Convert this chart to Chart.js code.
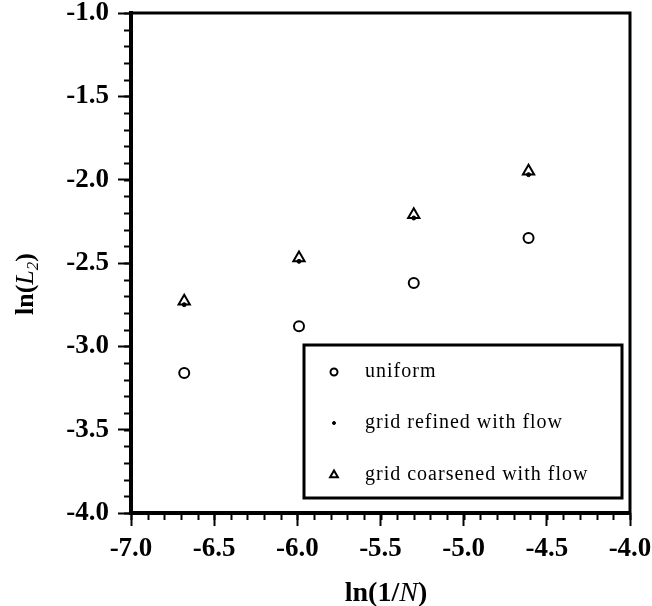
<!DOCTYPE html>
<html>
<head>
<meta charset="utf-8">
<script src="https://cdn.jsdelivr.net/npm/chart.js@4/dist/chart.umd.min.js"></script>
<style>
  html, body { margin: 0; padding: 0; background: #fff; }
  #wrap { width: 652px; height: 606px; position: relative; }
</style>
</head>
<body>
<div id="wrap"><canvas id="chart"></canvas></div>
<script>
// ln(1/N) for the four grids
const xVals = [-6.68, -5.99, -5.30, -4.61];
const uniform = [-3.16, -2.88, -2.62, -2.35];
const refined = [-2.75, -2.49, -2.23, -1.97];
const coarsened = [-2.73, -2.47, -2.21, -1.95];
const xTicks = [-7.0, -6.5, -6.0, -5.5, -5.0, -4.5, -4.0];
const yTicks = [-4.0, -3.5, -3.0, -2.5, -2.0, -1.5, -1.0];
const legendLabels = ['uniform', 'grid refined with flow', 'grid coarsened with flow'];

const SERIF = "'Liberation Serif', 'Times New Roman', serif";

function pts(ys) {
  return ys.map((y, i) => ({ x: xVals[i], y }));
}

// minor ticks, frame, axis titles and legend box
const extras = {
  id: 'extras',
  afterDraw(chart) {
    const ctx = chart.ctx;
    const a = chart.chartArea;
    const xs = chart.scales.x, ys = chart.scales.y;
    ctx.save();
    ctx.strokeStyle = '#000';

    // minor ticks every 0.1
    ctx.lineWidth = 2;
    for (let i = 0; i <= 30; i++) {
      const px = Math.round(xs.getPixelForValue(-7 + i / 10)) + 0.5;
      ctx.beginPath(); ctx.moveTo(px, a.bottom); ctx.lineTo(px, a.bottom + 7); ctx.stroke();
      const py = Math.round(ys.getPixelForValue(-4 + i / 10)) + 0.5;
      ctx.beginPath(); ctx.moveTo(a.left, py); ctx.lineTo(a.left - 7, py); ctx.stroke();
    }

    // frame
    ctx.lineWidth = 3;
    ctx.strokeRect(a.left, a.top, a.right - a.left, a.bottom - a.top);

    // x title: ln(1/N)
    ctx.fillStyle = '#000';
    ctx.textBaseline = 'alphabetic';
    const xParts = [['ln(1/', 'bold 28px ' + SERIF], ['N', 'italic 28px ' + SERIF], [')', 'bold 28px ' + SERIF]];
    let w = 0;
    xParts.forEach(p => { ctx.font = p[1]; w += ctx.measureText(p[0]).width; });
    let cx = 386 - w / 2;
    xParts.forEach(p => { ctx.font = p[1]; ctx.fillText(p[0], cx, 601); cx += ctx.measureText(p[0]).width; });

    // y title: ln(L2)
    ctx.save();
    ctx.translate(33, 284);
    ctx.rotate(-Math.PI / 2);
    const yParts = [['ln(', 'bold 26px ' + SERIF, 0], ['L', 'italic 26px ' + SERIF, 0], ['2', 'italic 17px ' + SERIF, 5], [')', 'bold 26px ' + SERIF, 0]];
    w = 0;
    yParts.forEach(p => { ctx.font = p[1]; w += ctx.measureText(p[0]).width; });
    cx = -w / 2;
    yParts.forEach(p => { ctx.font = p[1]; ctx.fillText(p[0], cx, p[2]); cx += ctx.measureText(p[0]).width; });
    ctx.restore();

    // legend box
    ctx.lineWidth = 3;
    ctx.strokeRect(304, 345, 318, 153);
    const rowsY = [372, 423, 475];
    ctx.font = '20px ' + SERIF;
    ctx.textBaseline = 'middle';
    chart.data.datasets.forEach((ds, i) => {
      const y = rowsY[i];
      ctx.lineWidth = ds.borderWidth;
      ctx.strokeStyle = ds.borderColor;
      ctx.fillStyle = ds.backgroundColor;
      Chart.helpers.drawPoint(ctx, {
        pointStyle: ds.pointStyle,
        radius: ds.legendRadius,
        borderWidth: ds.borderWidth,
        rotation: 0
      }, 334, y);
      ctx.fillStyle = '#000';
      ctx.letterSpacing = '1px';
      ctx.fillText(legendLabels[i], 365, y);
      ctx.letterSpacing = '0px';
    });
    ctx.restore();
  }
};

new Chart(document.getElementById('chart'), {
  type: 'scatter',
  data: {
    datasets: [
      {
        label: legendLabels[0],
        data: pts(uniform),
        pointStyle: 'circle',
        pointRadius: 5,
        legendRadius: 3.5,
        borderWidth: 2,
        borderColor: '#000',
        backgroundColor: '#fff'
      },
      {
        label: legendLabels[1],
        data: pts(refined),
        pointStyle: 'circle',
        pointRadius: 2,
        legendRadius: 1.5,
        borderWidth: 1,
        borderColor: '#000',
        backgroundColor: '#000'
      },
      {
        label: legendLabels[2],
        data: pts(coarsened),
        pointStyle: 'triangle',
        pointRadius: 6.5,
        legendRadius: 4.5,
        borderWidth: 2,
        borderColor: '#000',
        backgroundColor: 'rgba(0,0,0,0)'
      }
    ]
  },
  options: {
    responsive: true,
    maintainAspectRatio: false,
    animation: false,
    layout: { padding: { top: 13, right: 22, left: 0, bottom: 0 } },
    plugins: { legend: { display: false }, tooltip: { enabled: false } },
    scales: {
      x: {
        type: 'linear',
        min: -7, max: -4,
        afterFit: s => { s.height = 93; s.paddingLeft = 0; s.paddingRight = 0; },
        afterBuildTicks: s => { s.ticks = xTicks.map(v => ({ value: v })); },
        ticks: {
          callback: v => v.toFixed(1),
          color: '#000',
          padding: 7,
          maxRotation: 0,
          font: { family: SERIF, size: 27, weight: 'bold' }
        },
        grid: { drawOnChartArea: false, tickLength: 13, tickWidth: 2, color: '#000' },
        border: { display: true, width: 4, color: '#000' }
      },
      y: {
        type: 'linear',
        min: -4, max: -1,
        afterFit: s => { s.width = 131; s.paddingTop = 0; s.paddingBottom = 0; },
        afterBuildTicks: s => { s.ticks = yTicks.map(v => ({ value: v })); },
        ticks: {
          callback: v => v.toFixed(1),
          color: '#000',
          padding: 9,
          font: { family: SERIF, size: 27, weight: 'bold' }
        },
        grid: { drawOnChartArea: false, tickLength: 13, tickWidth: 2, color: '#000' },
        border: { display: true, width: 4, color: '#000' }
      }
    }
  },
  plugins: [extras]
});
</script>
</body>
</html>
